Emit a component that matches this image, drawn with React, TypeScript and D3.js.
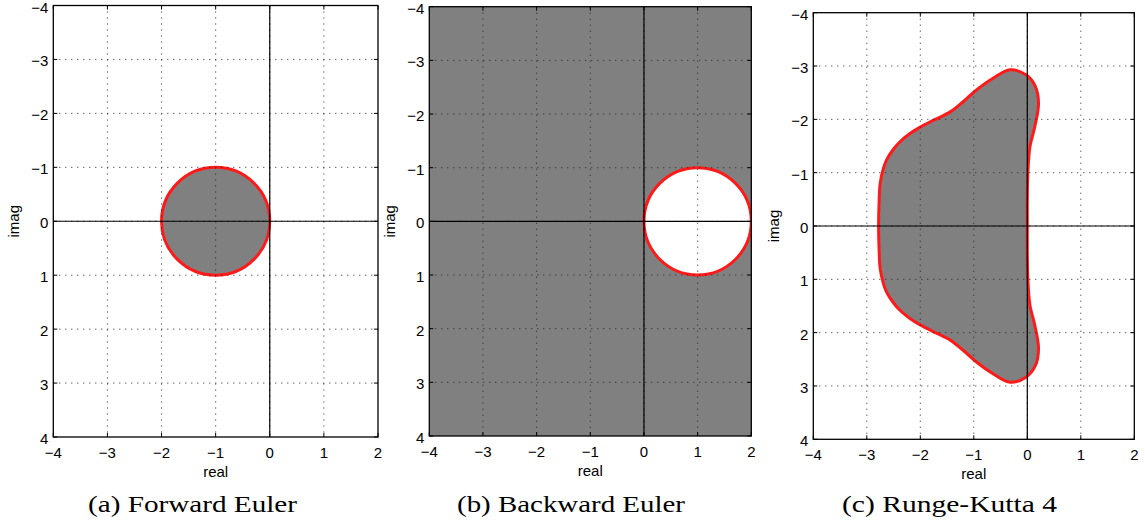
import * as d3 from 'd3'

// axis setup shared by the three panels
const xDomain: [number, number] = [-4, 2]
const yDomain: [number, number] = [-4, 4]
const xTicks = [-4, -3, -2, -1, 0, 1, 2]
const yTicks = [-4, -3, -2, -1, 0, 1, 2, 3, 4]

const captions = ['(a) Forward Euler', '(b) Backward Euler', '(c) Runge-Kutta 4']

// stability regions
const forwardEulerCenter: [number, number] = [-1, 0]
const forwardEulerRadius = 1
const backwardEulerCenter: [number, number] = [1, 0]
const backwardEulerRadius = 1

const rk4Boundary: [number, number][] = [
  [-2.78, 0], [-2.77, -0.45], [-2.75, -0.8], [-2.69, -1.08], [-2.63, -1.24],
  [-2.51, -1.43], [-2.38, -1.58], [-2.2, -1.73], [-2.01, -1.85], [-1.72, -2.0],
  [-1.44, -2.14], [-1.2, -2.33], [-0.95, -2.55], [-0.64, -2.77], [-0.32, -2.93],
  [-0.02, -2.83], [0.15, -2.62], [0.21, -2.3], [0.14, -1.86], [0.05, -1.49],
  [0.01, -0.99], [0, -0.5], [0, 0], [0, 0.5], [0.01, 0.99], [0.05, 1.49],
  [0.14, 1.86], [0.21, 2.3], [0.15, 2.62], [-0.02, 2.83], [-0.32, 2.93],
  [-0.64, 2.77], [-0.95, 2.55], [-1.2, 2.33], [-1.44, 2.14], [-1.72, 2.0],
  [-2.01, 1.85], [-2.2, 1.73], [-2.38, 1.58], [-2.51, 1.43], [-2.63, 1.24],
  [-2.69, 1.08], [-2.75, 0.8], [-2.77, 0.45],
]

const W = 1145
const H = 524
const GRAY = '#808080'
const RED = '#ff1a1a'
const tickFont = '"Liberation Sans", Arial, sans-serif'
const capFont = '"Liberation Serif", "Times New Roman", serif'
const fmt = (v: number) => (v < 0 ? '\u2212' + Math.abs(v) : String(v))

type Box = { left: number; right: number; top: number; bottom: number; capX: number; capW: number }

const boxes: Box[] = [
  { left: 53.3, right: 378, top: 5.5, bottom: 437, capX: 192.5, capW: 209 },
  { left: 429.3, right: 751.3, top: 6.7, bottom: 436, capX: 571, capW: 228 },
  { left: 813.3, right: 1134.3, top: 12.7, bottom: 439.3, capX: 949.5, capW: 215 },
]

function Panel({ box, kind, caption }: { box: Box; kind: number; caption: string }) {
  const x = d3.scaleLinear().domain(xDomain).range([box.left, box.right])
  const y = d3.scaleLinear().domain(yDomain).range([box.top, box.bottom])
  const pw = box.right - box.left
  const ph = box.bottom - box.top
  const tl = 4
  const clipId = `clip-${kind}`

  let region: JSX.Element | null = null
  if (kind === 0) {
    region = (
      <ellipse
        cx={x(forwardEulerCenter[0])}
        cy={y(forwardEulerCenter[1])}
        rx={x(forwardEulerRadius) - x(0)}
        ry={y(forwardEulerRadius) - y(0)}
        fill={GRAY}
        stroke={RED}
        strokeWidth={3}
      />
    )
  } else if (kind === 1) {
    region = (
      <g>
        <rect x={box.left} y={box.top} width={pw} height={ph} fill={GRAY} />
        <ellipse
          cx={x(backwardEulerCenter[0])}
          cy={y(backwardEulerCenter[1])}
          rx={x(backwardEulerRadius) - x(0)}
          ry={y(backwardEulerRadius) - y(0)}
          fill="#fff"
          stroke={RED}
          strokeWidth={3}
        />
      </g>
    )
  } else {
    const line = d3
      .line<[number, number]>()
      .x((d) => x(d[0]))
      .y((d) => y(d[1]))
      .curve(d3.curveCatmullRomClosed.alpha(0.5))
    region = <path d={line(rk4Boundary) || ''} fill={GRAY} stroke={RED} strokeWidth={3} strokeLinejoin="round" />
  }

  return (
    <g>
      <defs>
        <clipPath id={clipId}>
          <rect x={box.left} y={box.top} width={pw} height={ph} />
        </clipPath>
      </defs>
      <g clipPath={`url(#${clipId})`}>
        {region}
        {/* dotted grid */}
        {xTicks.slice(1, -1).map((t) => (
          <line key={'gx' + t} x1={x(t)} x2={x(t)} y1={box.top} y2={box.bottom}
            stroke="#222" strokeWidth={1} strokeDasharray="1 5" />
        ))}
        {yTicks.slice(1, -1).map((t) => (
          <line key={'gy' + t} x1={box.left} x2={box.right} y1={y(t)} y2={y(t)}
            stroke="#222" strokeWidth={1} strokeDasharray="1 5" />
        ))}
        {/* zero axes */}
        <line x1={x(0)} x2={x(0)} y1={box.top} y2={box.bottom} stroke="#000" strokeWidth={1.2} />
        <line x1={box.left} x2={box.right} y1={y(0)} y2={y(0)} stroke="#000" strokeWidth={1.2} />
      </g>
      {/* inward ticks */}
      {xTicks.map((t) => (
        <g key={'tx' + t}>
          <line x1={x(t)} x2={x(t)} y1={box.bottom} y2={box.bottom - tl} stroke="#000" />
          <line x1={x(t)} x2={x(t)} y1={box.top} y2={box.top + tl} stroke="#000" />
        </g>
      ))}
      {yTicks.map((t) => (
        <g key={'ty' + t}>
          <line x1={box.left} x2={box.left + tl} y1={y(t)} y2={y(t)} stroke="#000" />
          <line x1={box.right} x2={box.right - tl} y1={y(t)} y2={y(t)} stroke="#000" />
        </g>
      ))}
      <rect x={box.left} y={box.top} width={pw} height={ph} fill="none" stroke="#000" strokeWidth={1.3} />
      {/* tick labels */}
      {xTicks.map((t) => (
        <text key={'lx' + t} x={x(t)} y={box.bottom + 21} textAnchor="middle"
          fontFamily={tickFont} fontSize={15}>{fmt(t)}</text>
      ))}
      {yTicks.map((t) => (
        <text key={'ly' + t} x={box.left - 5} y={y(t) + 7} textAnchor="end"
          fontFamily={tickFont} fontSize={15}>{fmt(t)}</text>
      ))}
      <text x={(box.left + box.right) / 2} y={box.bottom + 40} textAnchor="middle"
        fontFamily={tickFont} fontSize={15}>real</text>
      <text transform={`translate(${box.left - 34},${(box.top + box.bottom) / 2}) rotate(-90)`}
        textAnchor="middle" fontFamily={tickFont} fontSize={15}>imag</text>
      <text x={box.capX} y={512} textAnchor="middle" fontFamily={capFont}
        fontSize={23} textLength={box.capW} lengthAdjust="spacingAndGlyphs">{caption}</text>
    </g>
  )
}

export default function App() {
  return (
    <svg width={W} height={H} viewBox={`0 0 ${W} ${H}`}
      style={{ position: 'absolute', left: 0, top: 0, background: '#fff' }}>
      {boxes.map((b, i) => (
        <Panel key={i} box={b} kind={i} caption={captions[i]} />
      ))}
    </svg>
  )
}
